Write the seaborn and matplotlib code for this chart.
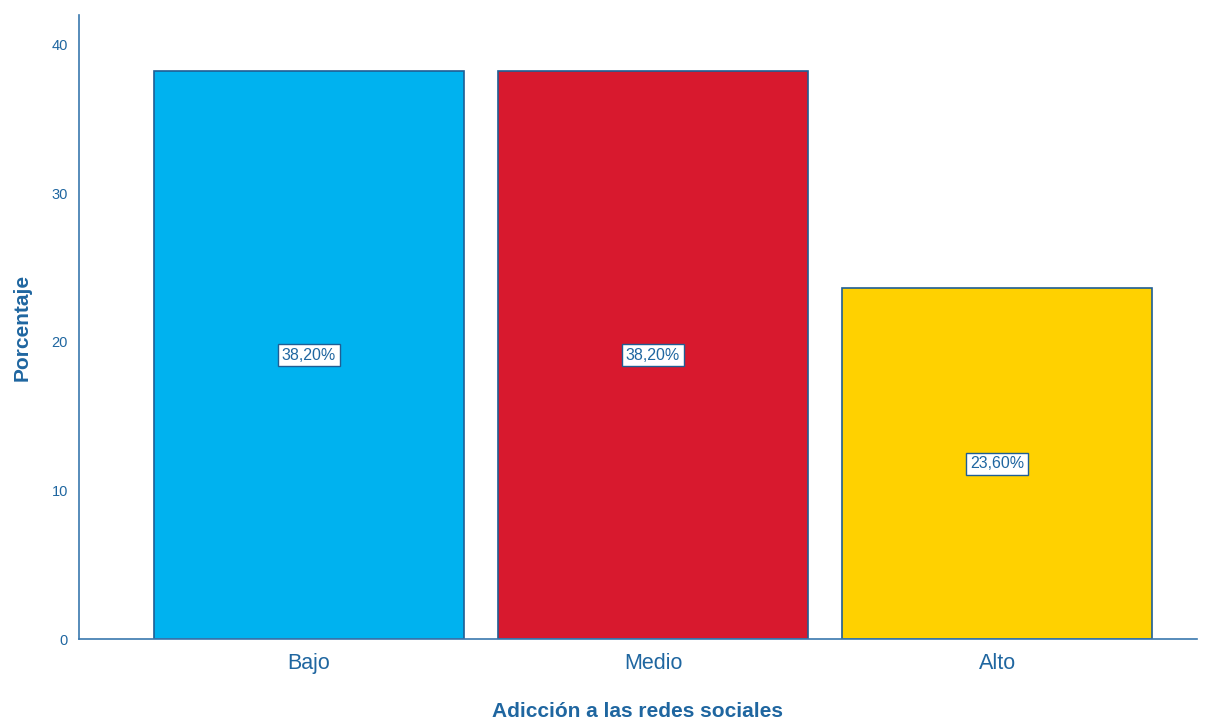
import numpy as np
import pandas as pd
import matplotlib
matplotlib.use('Agg')
import matplotlib.pyplot as plt
import seaborn as sns

categorias = ['Bajo', 'Medio', 'Alto']
porcentajes = [38.2, 38.2, 23.6]
etiquetas = ['38,20%', '38,20%', '23,60%']
colores = ['#00B2EF', '#D8192E', '#FFD100']

txt_color = '#1F66A0'
edge_color = '#1F5E94'

sns.set_style('white')
plt.rcParams['font.family'] = ['Liberation Sans', 'DejaVu Sans']

df = pd.DataFrame({'cat': categorias, 'pct': porcentajes})

fig = plt.figure(figsize=(12.09, 7.21), dpi=100)
ax = fig.add_axes([0.0653, 0.1137, 0.9247, 0.8655])
sns.barplot(data=df, x='cat', y='pct', hue='cat', palette=colores, saturation=1,
            width=0.9, edgecolor=edge_color, linewidth=1.2, legend=False, ax=ax)

for i, (v, lab) in enumerate(zip(porcentajes, etiquetas)):
    ax.text(i, v / 2, lab, ha='center', va='center', fontsize=11.5, color=txt_color,
            bbox=dict(boxstyle='square,pad=0.22', fc='white', ec=edge_color, lw=1))

ax.set_xlim(-0.669, 2.581)
ax.set_ylim(0, 42)
ax.set_yticks([0, 10, 20, 30, 40])
ax.tick_params(axis='y', labelsize=10.5, labelcolor=txt_color, length=0, pad=8)
ax.tick_params(axis='x', labelsize=15.5, labelcolor=txt_color, length=0, pad=10)
ax.set_xlabel('Adicción a las redes sociales', fontsize=15, fontweight='bold', color=txt_color, labelpad=20)
ax.set_ylabel('Porcentaje', fontsize=15, fontweight='bold', color=txt_color, labelpad=14)

sns.despine(ax=ax)
for s in ['left', 'bottom']:
    ax.spines[s].set_color('#3A78AE')
    ax.spines[s].set_linewidth(1.2)

fig.savefig('out.png', dpi=100)
